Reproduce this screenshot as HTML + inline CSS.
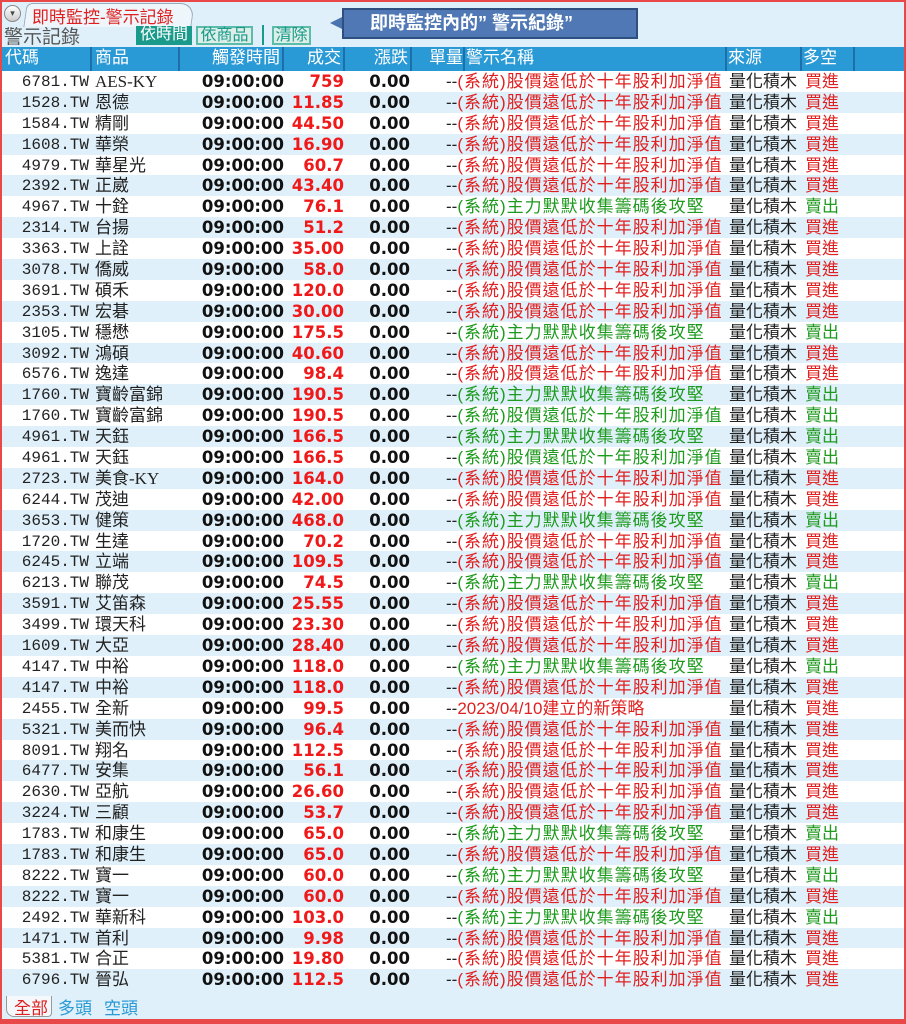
<!DOCTYPE html>
<html><head><meta charset="utf-8">
<style>
*{margin:0;padding:0;box-sizing:border-box}
body{width:906px;height:1024px;overflow:hidden;background:#dff0fa;font-family:"Liberation Sans","Noto Sans CJK TC",sans-serif;position:relative}
.frame{position:absolute;left:0;top:0;width:906px;height:1024px;border:2px solid #e84848;border-bottom:5px solid #e84848;pointer-events:none;z-index:5}
.a{position:absolute;white-space:nowrap}
#hdr{position:absolute;left:2px;top:47px;width:904px;height:24px;background:#2a9ad6;color:#fff;font-size:17px}
#hdr span{position:absolute;top:0;height:24px;line-height:22px;border-right:2px solid #1c6fa8;white-space:nowrap}
#rows{position:absolute;left:2px;top:71px;width:904px}
.r{position:relative;height:20.9px;font-size:17px;line-height:21px}
.r:nth-child(odd){background:#fff}
.r:nth-child(even){background:#dff0fa}
.r span{position:absolute;top:0;white-space:nowrap}
.c{right:817px;top:1px!important;font-family:"Liberation Mono","Noto Serif CJK TC",monospace;font-size:16px;color:#222}
.n{left:93px;color:#222;font-family:"Liberation Serif","Noto Sans CJK TC",serif}
.t{right:622px;font-family:"DejaVu Sans",sans-serif;font-weight:bold;font-size:16.5px;color:#111}
.p{right:562px;font-family:"DejaVu Sans",sans-serif;font-weight:bold;font-size:16.5px;color:#f01818}
.z{right:496px;font-family:"DejaVu Sans",sans-serif;font-weight:bold;font-size:16.5px;color:#111}
.w{left:444px;color:#e02020;letter-spacing:1px}
.w.g{color:#1e9a1e}
.w b{font-weight:normal;color:#222;letter-spacing:0}
.s{left:727px;color:#222}
.d{left:803px;color:#e02020}
.d.g{color:#1e9a1e}
</style></head><body>
<div class="frame"></div>
<div class="a" style="left:4px;top:5px;width:17px;height:17px;border-radius:50%;border:1px solid #888;background:linear-gradient(#fff,#ccc);font-size:9px;text-align:center;line-height:15px;color:#444">▾</div>
<div class="a" style="left:25px;top:3px;width:168px;height:24px;border:1px solid #9ab;border-bottom:none;border-radius:6px 14px 0 0;background:#eef6fb;transform:skewX(-8deg)"></div>
<div class="a" style="left:32px;top:3px;font-size:17px;color:#e02020">即時監控-警示記錄</div>
<div class="a" style="left:4px;top:22px;font-size:19px;color:#555">警示記錄</div>
<div class="a" style="left:136px;top:26px;width:56px;height:19px;background:#1a9a8a;color:#fff;font-size:16px;text-align:center;line-height:18px">依時間</div>
<div class="a" style="left:196px;top:26px;width:57px;height:19px;background:#dceee8;border:2px solid #5bbcaa;color:#1a9a8a;font-size:16px;text-align:center;line-height:15px">依商品</div>
<div class="a" style="left:262px;top:25px;width:2px;height:20px;background:#1a9a8a"></div>
<div class="a" style="left:272px;top:26px;width:39px;height:19px;background:#dceee8;border:2px solid #5bbcaa;color:#1a9a8a;font-size:16px;text-align:center;line-height:15px">清除</div>
<div class="a" style="left:330px;top:23px;width:0;height:0;border-top:7px solid transparent;border-bottom:7px solid transparent;border-right:14px solid #4a74b0;margin-top:-7px"></div>
<div class="a" style="left:342px;top:8px;width:296px;height:31px;background:#4f78b5;border:2px solid #2f4f80;color:#fff;font-size:18px;font-weight:bold;line-height:26px;padding-left:26px">即時監控內的” 警示紀錄”</div>
<div id="hdr">
<span style="left:0;width:90px;padding-left:3px">代碼</span>
<span style="left:90px;width:88px;padding-left:3px">商品</span>
<span style="left:178px;width:104px;text-align:right;padding-right:2px">觸發時間</span>
<span style="left:282px;width:61px;text-align:right;padding-right:2px">成交</span>
<span style="left:343px;width:67px;text-align:right;padding-right:2px">漲跌</span>
<span style="left:410px;width:53px;text-align:right;padding-right:0">單量</span>
<span style="left:463px;width:262px;padding-left:1px">警示名稱</span>
<span style="left:725px;width:75px;padding-left:1px">來源</span>
<span style="left:800px;width:53px;padding-left:1px">多空</span>
</div>
<div id="rows">
<div class="r"><span class="c">6781.TW</span><span class="n">AES-KY</span><span class="t">09:00:00</span><span class="p">759</span><span class="z">0.00</span><span class="w"><b>--</b>(系統)股價遠低於十年股利加淨值</span><span class="s">量化積木</span><span class="d">買進</span></div>
<div class="r"><span class="c">1528.TW</span><span class="n">恩德</span><span class="t">09:00:00</span><span class="p">11.85</span><span class="z">0.00</span><span class="w"><b>--</b>(系統)股價遠低於十年股利加淨值</span><span class="s">量化積木</span><span class="d">買進</span></div>
<div class="r"><span class="c">1584.TW</span><span class="n">精剛</span><span class="t">09:00:00</span><span class="p">44.50</span><span class="z">0.00</span><span class="w"><b>--</b>(系統)股價遠低於十年股利加淨值</span><span class="s">量化積木</span><span class="d">買進</span></div>
<div class="r"><span class="c">1608.TW</span><span class="n">華榮</span><span class="t">09:00:00</span><span class="p">16.90</span><span class="z">0.00</span><span class="w"><b>--</b>(系統)股價遠低於十年股利加淨值</span><span class="s">量化積木</span><span class="d">買進</span></div>
<div class="r"><span class="c">4979.TW</span><span class="n">華星光</span><span class="t">09:00:00</span><span class="p">60.7</span><span class="z">0.00</span><span class="w"><b>--</b>(系統)股價遠低於十年股利加淨值</span><span class="s">量化積木</span><span class="d">買進</span></div>
<div class="r"><span class="c">2392.TW</span><span class="n">正崴</span><span class="t">09:00:00</span><span class="p">43.40</span><span class="z">0.00</span><span class="w"><b>--</b>(系統)股價遠低於十年股利加淨值</span><span class="s">量化積木</span><span class="d">買進</span></div>
<div class="r"><span class="c">4967.TW</span><span class="n">十銓</span><span class="t">09:00:00</span><span class="p">76.1</span><span class="z">0.00</span><span class="w g"><b>--</b>(系統)主力默默收集籌碼後攻堅</span><span class="s">量化積木</span><span class="d g">賣出</span></div>
<div class="r"><span class="c">2314.TW</span><span class="n">台揚</span><span class="t">09:00:00</span><span class="p">51.2</span><span class="z">0.00</span><span class="w"><b>--</b>(系統)股價遠低於十年股利加淨值</span><span class="s">量化積木</span><span class="d">買進</span></div>
<div class="r"><span class="c">3363.TW</span><span class="n">上詮</span><span class="t">09:00:00</span><span class="p">35.00</span><span class="z">0.00</span><span class="w"><b>--</b>(系統)股價遠低於十年股利加淨值</span><span class="s">量化積木</span><span class="d">買進</span></div>
<div class="r"><span class="c">3078.TW</span><span class="n">僑威</span><span class="t">09:00:00</span><span class="p">58.0</span><span class="z">0.00</span><span class="w"><b>--</b>(系統)股價遠低於十年股利加淨值</span><span class="s">量化積木</span><span class="d">買進</span></div>
<div class="r"><span class="c">3691.TW</span><span class="n">碩禾</span><span class="t">09:00:00</span><span class="p">120.0</span><span class="z">0.00</span><span class="w"><b>--</b>(系統)股價遠低於十年股利加淨值</span><span class="s">量化積木</span><span class="d">買進</span></div>
<div class="r"><span class="c">2353.TW</span><span class="n">宏碁</span><span class="t">09:00:00</span><span class="p">30.00</span><span class="z">0.00</span><span class="w"><b>--</b>(系統)股價遠低於十年股利加淨值</span><span class="s">量化積木</span><span class="d">買進</span></div>
<div class="r"><span class="c">3105.TW</span><span class="n">穩懋</span><span class="t">09:00:00</span><span class="p">175.5</span><span class="z">0.00</span><span class="w g"><b>--</b>(系統)主力默默收集籌碼後攻堅</span><span class="s">量化積木</span><span class="d g">賣出</span></div>
<div class="r"><span class="c">3092.TW</span><span class="n">鴻碩</span><span class="t">09:00:00</span><span class="p">40.60</span><span class="z">0.00</span><span class="w"><b>--</b>(系統)股價遠低於十年股利加淨值</span><span class="s">量化積木</span><span class="d">買進</span></div>
<div class="r"><span class="c">6576.TW</span><span class="n">逸達</span><span class="t">09:00:00</span><span class="p">98.4</span><span class="z">0.00</span><span class="w"><b>--</b>(系統)股價遠低於十年股利加淨值</span><span class="s">量化積木</span><span class="d">買進</span></div>
<div class="r"><span class="c">1760.TW</span><span class="n">寶齡富錦</span><span class="t">09:00:00</span><span class="p">190.5</span><span class="z">0.00</span><span class="w g"><b>--</b>(系統)主力默默收集籌碼後攻堅</span><span class="s">量化積木</span><span class="d g">賣出</span></div>
<div class="r"><span class="c">1760.TW</span><span class="n">寶齡富錦</span><span class="t">09:00:00</span><span class="p">190.5</span><span class="z">0.00</span><span class="w g"><b>--</b>(系統)股價遠低於十年股利加淨值</span><span class="s">量化積木</span><span class="d g">賣出</span></div>
<div class="r"><span class="c">4961.TW</span><span class="n">天鈺</span><span class="t">09:00:00</span><span class="p">166.5</span><span class="z">0.00</span><span class="w g"><b>--</b>(系統)主力默默收集籌碼後攻堅</span><span class="s">量化積木</span><span class="d g">賣出</span></div>
<div class="r"><span class="c">4961.TW</span><span class="n">天鈺</span><span class="t">09:00:00</span><span class="p">166.5</span><span class="z">0.00</span><span class="w g"><b>--</b>(系統)股價遠低於十年股利加淨值</span><span class="s">量化積木</span><span class="d g">賣出</span></div>
<div class="r"><span class="c">2723.TW</span><span class="n">美食-KY</span><span class="t">09:00:00</span><span class="p">164.0</span><span class="z">0.00</span><span class="w"><b>--</b>(系統)股價遠低於十年股利加淨值</span><span class="s">量化積木</span><span class="d">買進</span></div>
<div class="r"><span class="c">6244.TW</span><span class="n">茂迪</span><span class="t">09:00:00</span><span class="p">42.00</span><span class="z">0.00</span><span class="w"><b>--</b>(系統)股價遠低於十年股利加淨值</span><span class="s">量化積木</span><span class="d">買進</span></div>
<div class="r"><span class="c">3653.TW</span><span class="n">健策</span><span class="t">09:00:00</span><span class="p">468.0</span><span class="z">0.00</span><span class="w g"><b>--</b>(系統)主力默默收集籌碼後攻堅</span><span class="s">量化積木</span><span class="d g">賣出</span></div>
<div class="r"><span class="c">1720.TW</span><span class="n">生達</span><span class="t">09:00:00</span><span class="p">70.2</span><span class="z">0.00</span><span class="w"><b>--</b>(系統)股價遠低於十年股利加淨值</span><span class="s">量化積木</span><span class="d">買進</span></div>
<div class="r"><span class="c">6245.TW</span><span class="n">立端</span><span class="t">09:00:00</span><span class="p">109.5</span><span class="z">0.00</span><span class="w"><b>--</b>(系統)股價遠低於十年股利加淨值</span><span class="s">量化積木</span><span class="d">買進</span></div>
<div class="r"><span class="c">6213.TW</span><span class="n">聯茂</span><span class="t">09:00:00</span><span class="p">74.5</span><span class="z">0.00</span><span class="w g"><b>--</b>(系統)主力默默收集籌碼後攻堅</span><span class="s">量化積木</span><span class="d g">賣出</span></div>
<div class="r"><span class="c">3591.TW</span><span class="n">艾笛森</span><span class="t">09:00:00</span><span class="p">25.55</span><span class="z">0.00</span><span class="w"><b>--</b>(系統)股價遠低於十年股利加淨值</span><span class="s">量化積木</span><span class="d">買進</span></div>
<div class="r"><span class="c">3499.TW</span><span class="n">環天科</span><span class="t">09:00:00</span><span class="p">23.30</span><span class="z">0.00</span><span class="w"><b>--</b>(系統)股價遠低於十年股利加淨值</span><span class="s">量化積木</span><span class="d">買進</span></div>
<div class="r"><span class="c">1609.TW</span><span class="n">大亞</span><span class="t">09:00:00</span><span class="p">28.40</span><span class="z">0.00</span><span class="w"><b>--</b>(系統)股價遠低於十年股利加淨值</span><span class="s">量化積木</span><span class="d">買進</span></div>
<div class="r"><span class="c">4147.TW</span><span class="n">中裕</span><span class="t">09:00:00</span><span class="p">118.0</span><span class="z">0.00</span><span class="w g"><b>--</b>(系統)主力默默收集籌碼後攻堅</span><span class="s">量化積木</span><span class="d g">賣出</span></div>
<div class="r"><span class="c">4147.TW</span><span class="n">中裕</span><span class="t">09:00:00</span><span class="p">118.0</span><span class="z">0.00</span><span class="w"><b>--</b>(系統)股價遠低於十年股利加淨值</span><span class="s">量化積木</span><span class="d">買進</span></div>
<div class="r"><span class="c">2455.TW</span><span class="n">全新</span><span class="t">09:00:00</span><span class="p">99.5</span><span class="z">0.00</span><span class="w" style="letter-spacing:0"><b>--</b>2023/04/10建立的新策略</span><span class="s">量化積木</span><span class="d">買進</span></div>
<div class="r"><span class="c">5321.TW</span><span class="n">美而快</span><span class="t">09:00:00</span><span class="p">96.4</span><span class="z">0.00</span><span class="w"><b>--</b>(系統)股價遠低於十年股利加淨值</span><span class="s">量化積木</span><span class="d">買進</span></div>
<div class="r"><span class="c">8091.TW</span><span class="n">翔名</span><span class="t">09:00:00</span><span class="p">112.5</span><span class="z">0.00</span><span class="w"><b>--</b>(系統)股價遠低於十年股利加淨值</span><span class="s">量化積木</span><span class="d">買進</span></div>
<div class="r"><span class="c">6477.TW</span><span class="n">安集</span><span class="t">09:00:00</span><span class="p">56.1</span><span class="z">0.00</span><span class="w"><b>--</b>(系統)股價遠低於十年股利加淨值</span><span class="s">量化積木</span><span class="d">買進</span></div>
<div class="r"><span class="c">2630.TW</span><span class="n">亞航</span><span class="t">09:00:00</span><span class="p">26.60</span><span class="z">0.00</span><span class="w"><b>--</b>(系統)股價遠低於十年股利加淨值</span><span class="s">量化積木</span><span class="d">買進</span></div>
<div class="r"><span class="c">3224.TW</span><span class="n">三顧</span><span class="t">09:00:00</span><span class="p">53.7</span><span class="z">0.00</span><span class="w"><b>--</b>(系統)股價遠低於十年股利加淨值</span><span class="s">量化積木</span><span class="d">買進</span></div>
<div class="r"><span class="c">1783.TW</span><span class="n">和康生</span><span class="t">09:00:00</span><span class="p">65.0</span><span class="z">0.00</span><span class="w g"><b>--</b>(系統)主力默默收集籌碼後攻堅</span><span class="s">量化積木</span><span class="d g">賣出</span></div>
<div class="r"><span class="c">1783.TW</span><span class="n">和康生</span><span class="t">09:00:00</span><span class="p">65.0</span><span class="z">0.00</span><span class="w"><b>--</b>(系統)股價遠低於十年股利加淨值</span><span class="s">量化積木</span><span class="d">買進</span></div>
<div class="r"><span class="c">8222.TW</span><span class="n">寶一</span><span class="t">09:00:00</span><span class="p">60.0</span><span class="z">0.00</span><span class="w g"><b>--</b>(系統)主力默默收集籌碼後攻堅</span><span class="s">量化積木</span><span class="d g">賣出</span></div>
<div class="r"><span class="c">8222.TW</span><span class="n">寶一</span><span class="t">09:00:00</span><span class="p">60.0</span><span class="z">0.00</span><span class="w"><b>--</b>(系統)股價遠低於十年股利加淨值</span><span class="s">量化積木</span><span class="d">買進</span></div>
<div class="r"><span class="c">2492.TW</span><span class="n">華新科</span><span class="t">09:00:00</span><span class="p">103.0</span><span class="z">0.00</span><span class="w g"><b>--</b>(系統)主力默默收集籌碼後攻堅</span><span class="s">量化積木</span><span class="d g">賣出</span></div>
<div class="r"><span class="c">1471.TW</span><span class="n">首利</span><span class="t">09:00:00</span><span class="p">9.98</span><span class="z">0.00</span><span class="w"><b>--</b>(系統)股價遠低於十年股利加淨值</span><span class="s">量化積木</span><span class="d">買進</span></div>
<div class="r"><span class="c">5381.TW</span><span class="n">合正</span><span class="t">09:00:00</span><span class="p">19.80</span><span class="z">0.00</span><span class="w"><b>--</b>(系統)股價遠低於十年股利加淨值</span><span class="s">量化積木</span><span class="d">買進</span></div>
<div class="r"><span class="c">6796.TW</span><span class="n">晉弘</span><span class="t">09:00:00</span><span class="p">112.5</span><span class="z">0.00</span><span class="w"><b>--</b>(系統)股價遠低於十年股利加淨值</span><span class="s">量化積木</span><span class="d">買進</span></div>
</div>
<div class="a" style="left:6px;top:996px;width:46px;height:21px;border:1px solid #999;border-top:none;border-radius:0 0 4px 8px;background:#f4f8fb"></div>
<div class="a" style="left:14px;top:994px;font-size:17px;color:#e02020">全部</div>
<div class="a" style="left:58px;top:994px;font-size:17px;color:#2a9ad6">多頭</div>
<div class="a" style="left:104px;top:994px;font-size:17px;color:#2a9ad6">空頭</div>
</body></html>
